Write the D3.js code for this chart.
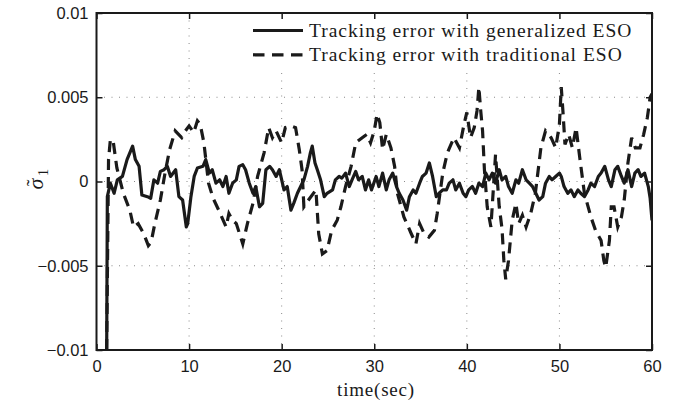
<!DOCTYPE html>
<html>
<head>
<meta charset="utf-8">
<script src="https://cdn.jsdelivr.net/npm/d3@7"></script>
<style>
  body { margin: 0; background: #fff; }
  svg { display: block; }
</style>
</head>
<body>
<div id="chart"></div>
<script>
// values are in units of 1e-3
const tGen = [1.1, 1.17, 1.5, 1.9, 2.25, 2.8, 3.3, 3.9, 4.2, 4.6, 4.9, 5.5, 5.85, 6.2, 6.6, 6.9, 7.3, 7.65, 8.0, 8.55, 8.9, 9.3, 9.7, 9.85,
  10.2, 10.55, 10.9, 11.5, 11.8, 12.2, 12.5, 12.9, 13.3, 13.65, 14.0, 14.3, 14.7, 15.1, 15.4, 15.8, 16.1, 16.5, 16.9, 17.2, 17.6, 17.95,
  18.3, 18.7, 19.0, 19.4, 19.75, 20.25, 20.6, 21.0, 21.3, 21.7, 22.05, 22.4, 22.8, 23.1, 23.3, 23.6, 23.85, 24.2, 24.6, 24.9, 25.5, 25.8,
  26.2, 26.5, 26.9, 27.3, 27.6, 28.0, 28.3, 28.7, 29.05, 29.4, 29.7, 30.2, 30.5, 30.9, 31.3, 31.6, 32.0, 32.4, 32.7, 33.1, 33.5, 33.8,
  34.2, 34.5, 34.9, 35.2, 35.6, 35.95, 36.3, 36.7, 37.0, 37.4, 37.8, 38.1, 38.5, 38.8, 39.2, 39.6, 39.9, 40.2, 40.6, 40.95, 41.3, 41.7,
  42.05, 42.4, 42.75, 43.1, 43.5, 43.8, 44.2, 44.5, 44.9, 45.3, 45.6, 46.0, 46.4, 46.75, 47.1, 47.45, 47.8, 48.2, 48.5, 48.9, 49.2, 49.6,
  50.0, 50.2, 50.5, 50.9, 51.25, 51.6, 52.0, 52.3, 52.7, 53.1, 53.4, 53.8, 54.2, 54.5, 54.9, 55.3, 55.6, 56.0, 56.3, 56.7, 57.0, 57.4,
  57.8, 58.15, 58.5, 58.8, 59.2, 59.6, 59.8, 60.0];
const eGen = [-10, -0.9, -0.1, -0.7, 0.1, 0.3, 1.3, 2.1, 1.3, 0.9, -0.8, -0.9, -1.0, 0.1, -0.1, 0.6, 0.7, 0.9, 0.3, 0.7, -0.9, -1.1, -2.7, -2.5,
  -0.9, 0.3, 0.8, 0.9, 1.3, 0.5, 0.7, -0.1, 0.1, -0.3, 0.3, -0.7, -0.1, 0.1, 0.9, 1.0, 0.7, -0.1, -0.7, -0.3, -1.5, -1.3,
  0.7, 0.9, 0.7, 0.3, 0.7, -0.5, -0.3, -1.7, -1.3, -0.7, -0.3, 0.1, 0.9, 1.7, 2.1, 1.1, 0.7, 0.1, -0.9, -0.7, -0.5, 0.1,
  0.3, 0.2, 0.5, -0.3, 0.1, 0.6, 0.1, 0.3, -0.5, 0.1, -0.5, 0.3, -0.3, 0.5, -0.5, 0.1, 0.5, -0.3, -0.7, -1.1, -1.7, -0.9,
  -0.5, -0.7, -0.1, 0.3, 0.5, 1.1, 0.3, -0.9, -0.7, -0.5, -0.5, -0.1, 0.1, -0.5, -0.1, -0.7, -0.9, -0.5, -0.3, -0.7, -0.1, -0.3,
  0.5, 0.1, 0.5, -0.1, 0.7, 0.1, 0.3, -0.3, -0.7, 0.1, -0.1, 0.7, 0.1, -0.1, -0.3, -0.7, -1.1, -0.9, -0.1, 0.3, 0.1, 0.3,
  0.5, 0.3, -0.3, -0.7, -0.5, -0.9, -0.5, -0.7, -0.9, -0.5, -0.1, -0.3, 0.3, 0.5, 0.9, 0.1, -0.3, 0.7, 0.9, 0.3, -0.1, 0.7,
  -0.3, 0.5, 0.7, 0.3, 0.5, -0.3, -1.0, -2.3];

const tTrad = [1.1, 1.3, 1.5, 1.8, 2.2, 2.9, 3.6, 4.0, 4.5, 5.1, 5.6, 5.9, 6.3, 6.9, 7.4, 7.9, 8.5, 9.2, 9.6, 10.0, 10.5, 10.9, 11.2, 11.6,
  12.1, 12.6, 13.2, 14.0, 14.3, 14.7, 15.1, 15.8, 16.3, 16.9, 17.4, 18.1, 18.6, 19.0, 19.4, 20.0, 20.4, 21.0, 21.5, 21.9, 22.2, 22.4,
  22.9, 23.7, 24.0, 24.4, 24.9, 25.4, 26.0, 26.4, 26.9, 27.5, 28.0, 28.7, 29.2, 29.6, 30.0, 30.3, 30.6, 30.9, 31.3, 31.8, 32.2, 32.5,
  33.2, 34.0, 34.5, 34.9, 35.4, 35.9, 36.5, 36.8, 37.4, 37.9, 38.6, 39.2, 39.7, 40.0, 40.4, 40.8, 41.1, 41.3, 41.5, 41.7, 41.9, 42.2,
  42.6, 43.1, 43.5, 43.8, 44.0, 44.2, 44.5, 44.9, 45.3, 45.6, 46.0, 46.4, 46.9, 47.4, 48.0, 48.5, 49.1, 49.6, 50.0, 50.2, 50.4, 50.6,
  51.0, 51.4, 51.8, 52.2, 52.7, 53.4, 53.9, 54.5, 54.8, 55.0, 55.4, 55.6, 55.9, 56.3, 56.7, 57.0, 57.4, 57.8, 58.2, 58.7, 59.1, 59.5,
  59.8, 60.0];
const eTrad = [-10, 1.3, 2.5, 2.4, 0.8, -0.7, -1.7, -2.7, -2.5, -3.1, -3.8, -3.6, -2.5, -1.1, 0.5, 1.9, 3.0, 2.6, 3.0, 3.3, 2.9, 3.6, 3.4, 2.3,
  -0.1, -1.0, -1.7, -2.7, -1.9, -2.3, -2.5, -3.7, -2.5, -1.3, 0.3, 1.7, 3.2, 2.6, 3.0, 2.3, 3.2, 3.3, 3.2, 1.9, 0.7, -1.5,
  -1.1, -0.5, -3.1, -4.3, -4.1, -2.9, -2.3, -1.5, -0.3, 0.9, 2.3, 2.6, 2.8, 2.3, 3.0, 4.0, 3.5, 1.9, 2.8, 2.0, 0.9, -0.7,
  -2.1, -3.1, -3.7, -2.5, -3.1, -3.3, -2.9, -1.9, 0.5, 1.7, 2.6, 2.0, 3.4, 4.1, 2.6, 3.2, 4.2, 5.6, 4.2, 3.0, 0.7, -1.5,
  -2.7, 1.6, -1.5, -2.8, -4.7, -5.8, -4.7, -2.3, -1.3, -2.5, -2.0, -2.7, -1.9, -0.7, 2.0, 3.0, 2.6, 2.0, 3.4, 5.6, 4.0, 2.2,
  2.8, 2.0, 3.2, 1.4, -0.7, -2.1, -2.9, -3.5, -4.7, -5.1, -3.5, -1.5, -1.5, -2.7, -2.1, -1.1, 1.1, 2.6, 2.0, 2.0, 2.8, 3.8,
  5.0, 5.2];

const xTicks = [0, 10, 20, 30, 40, 50, 60];
const yTicks = [-0.01, -0.005, 0, 0.005, 0.01];
const yTickLabels = ["\u22120.01", "\u22120.005", "0", "0.005", "0.01"];
const legendLabels = ["Tracking error with generalized ESO", "Tracking error with traditional ESO"];

const W = 681, H = 409;
const pl = 96.5, pr = 652, pt = 13, pb = 350;

const svg = d3.select("#chart").append("svg")
  .attr("width", W)
  .attr("height", H);

const x = d3.scaleLinear().domain([0, 60]).range([pl, pr]);
const y = d3.scaleLinear().domain([-0.01, 0.01]).range([pb, pt]);

// grid
svg.append("g")
  .selectAll("line")
  .data(xTicks.slice(1, -1))
  .join("line")
  .attr("x1", d => x(d)).attr("x2", d => x(d))
  .attr("y1", pt).attr("y2", pb)
  .attr("stroke", "#8a8a8a")
  .attr("stroke-width", 1)
  .attr("stroke-dasharray", "1,6.5");

svg.append("g")
  .selectAll("line")
  .data(yTicks.slice(1, -1))
  .join("line")
  .attr("x1", pl).attr("x2", pr)
  .attr("y1", d => y(d)).attr("y2", d => y(d))
  .attr("stroke", "#8a8a8a")
  .attr("stroke-width", 1)
  .attr("stroke-dasharray", "1,6.5");

svg.append("clipPath").attr("id", "clip")
  .append("rect")
  .attr("x", pl).attr("y", pt)
  .attr("width", pr - pl).attr("height", pb - pt);

const line = d3.line()
  .x(d => x(d[0]))
  .y(d => y(d[1] * 1e-3));

const genData = tGen.map((t, i) => [t, eGen[i]]);
const tradData = tTrad.map((t, i) => [t, eTrad[i]]);

const plot = svg.append("g").attr("clip-path", "url(#clip)");

plot.append("path")
  .datum(genData)
  .attr("d", line)
  .attr("fill", "none")
  .attr("stroke", "#1a1a1a")
  .attr("stroke-width", 3.2)
  .attr("stroke-linejoin", "round");

plot.append("path")
  .datum(tradData)
  .attr("d", line)
  .attr("fill", "none")
  .attr("stroke", "#1a1a1a")
  .attr("stroke-width", 3.2)
  .attr("stroke-dasharray", "11,7");

// axes box with inward ticks
const tickLen = 6;
svg.append("g").call(d3.axisBottom(x).tickValues(xTicks).tickSize(-tickLen).tickFormat(d3.format("d")))
  .attr("transform", `translate(0,${pb})`)
  .call(g => g.select(".domain").remove())
  .call(g => g.selectAll(".tick line").attr("stroke", "#1a1a1a").attr("stroke-width", 1.5))
  .call(g => g.selectAll(".tick text")
    .attr("y", 10)
    .attr("dy", "0.71em")
    .style("font-family", "'Liberation Sans', Arial, sans-serif")
    .style("font-size", "16.5px")
    .attr("fill", "#1a1a1a"));

svg.append("g").call(d3.axisTop(x).tickValues(xTicks).tickSize(-tickLen).tickFormat(""))
  .attr("transform", `translate(0,${pt})`)
  .call(g => g.select(".domain").remove())
  .call(g => g.selectAll(".tick line").attr("stroke", "#1a1a1a").attr("stroke-width", 1.5));

svg.append("g").call(d3.axisLeft(y).tickValues(yTicks).tickSize(-tickLen).tickFormat((d, i) => yTickLabels[i]))
  .attr("transform", `translate(${pl},0)`)
  .call(g => g.select(".domain").remove())
  .call(g => g.selectAll(".tick line").attr("stroke", "#1a1a1a").attr("stroke-width", 1.5))
  .call(g => g.selectAll(".tick text")
    .attr("x", -8)
    .style("font-family", "'Liberation Sans', Arial, sans-serif")
    .style("font-size", "16.5px")
    .attr("fill", "#1a1a1a"));

svg.append("g").call(d3.axisRight(y).tickValues(yTicks).tickSize(-tickLen).tickFormat(""))
  .attr("transform", `translate(${pr},0)`)
  .call(g => g.select(".domain").remove())
  .call(g => g.selectAll(".tick line").attr("stroke", "#1a1a1a").attr("stroke-width", 1.5));

svg.append("rect")
  .attr("x", pl).attr("y", pt)
  .attr("width", pr - pl).attr("height", pb - pt)
  .attr("fill", "none")
  .attr("stroke", "#1a1a1a")
  .attr("stroke-width", 2);

// legend
const legend = svg.append("g");
legend.append("rect")
  .attr("x", 246).attr("y", 19)
  .attr("width", 400).attr("height", 50)
  .attr("fill", "#fff");

const legendRows = legend.selectAll("g.row")
  .data(legendLabels)
  .join("g")
  .attr("class", "row")
  .attr("transform", (d, i) => `translate(0,${30.5 + i * 24.3})`);

legendRows.append("line")
  .attr("x1", 253).attr("x2", 303)
  .attr("stroke", "#1a1a1a")
  .attr("stroke-width", 3.2)
  .attr("stroke-dasharray", (d, i) => i === 0 ? null : "11.5,7.5");

legendRows.append("text")
  .attr("x", 309)
  .attr("y", 6.2)
  .style("font-family", "'Liberation Serif', 'Times New Roman', serif")
  .style("font-size", "19.5px")
  .style("letter-spacing", "1px")
  .attr("fill", "#1a1a1a")
  .text(d => d);

// axis titles
svg.append("text")
  .attr("x", 376)
  .attr("y", 396)
  .attr("text-anchor", "middle")
  .style("font-family", "'Liberation Serif', 'Times New Roman', serif")
  .style("font-size", "19px")
  .style("letter-spacing", "0.8px")
  .attr("fill", "#1a1a1a")
  .text("time(sec)");

// y label: sigma with tilde and subscript 1, rotated
const ylab = svg.append("g")
  .attr("transform", "translate(43,181) rotate(-90)")
  .style("font-family", "'Liberation Serif', 'Times New Roman', serif")
  .attr("fill", "#1a1a1a");
ylab.append("text")
  .attr("x", -3).attr("y", 0)
  .attr("text-anchor", "middle")
  .style("font-size", "22px")
  .style("font-style", "italic")
  .text("\u03C3");
ylab.append("text")
  .attr("x", -2).attr("y", -2.5)
  .attr("text-anchor", "middle")
  .style("font-size", "20px")
  .text("\u02DC");
ylab.append("text")
  .attr("x", 5).attr("y", 5)
  .style("font-size", "14px")
  .text("1");
</script>
</body>
</html>
